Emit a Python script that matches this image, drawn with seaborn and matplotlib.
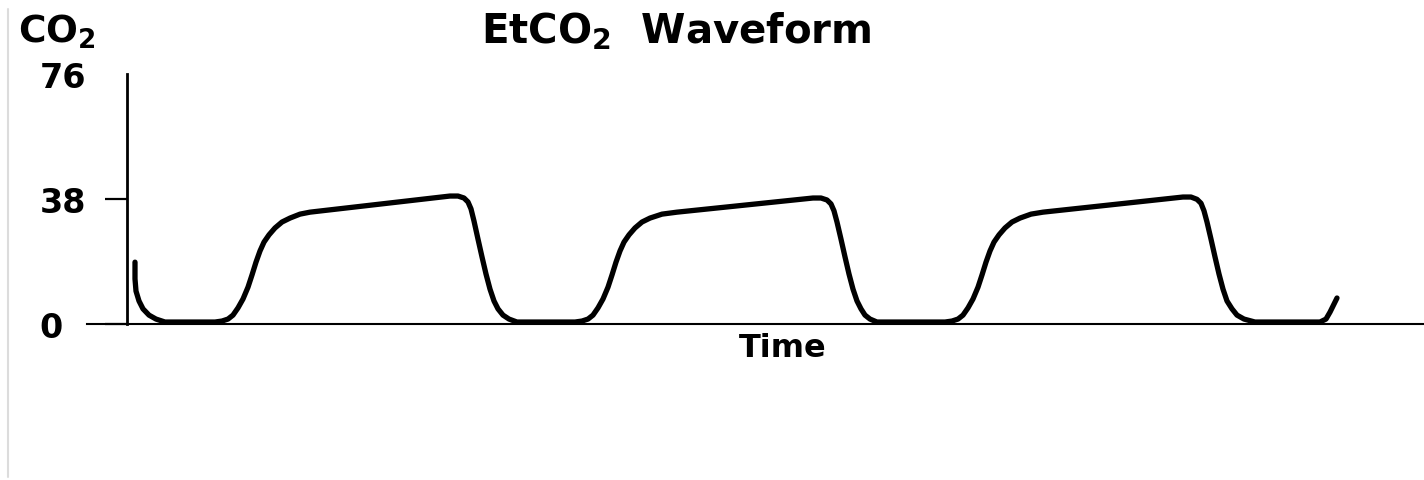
import numpy as np
import pandas as pd
import matplotlib
matplotlib.use("Agg")
import matplotlib.pyplot as plt
from matplotlib.lines import Line2D
import seaborn as sns


# Waveform: time (s, arbitrary) and CO2 (mmHg).
time_s = [
    # tail of previous breath
    0.08, 0.08, 0.09, 0.12, 0.16, 0.22, 0.29, 0.38,
    # breath 1
    0.88, 0.95, 1.01, 1.06, 1.11, 1.16, 1.21, 1.25, 1.29, 1.33, 1.37, 1.42,
    1.48, 1.55, 1.63, 1.73, 1.83,
    3.23, 3.31, 3.37, 3.41, 3.44, 3.47, 3.51, 3.55, 3.59, 3.63, 3.67, 3.71,
    3.76, 3.82, 3.90,
    # breath 2
    4.48, 4.55, 4.61, 4.66, 4.71, 4.76, 4.81, 4.85, 4.89, 4.93, 4.97, 5.02,
    5.08, 5.15, 5.23, 5.35, 5.50,
    6.86, 6.94, 7.00, 7.04, 7.07, 7.10, 7.14, 7.18, 7.22, 7.26, 7.30, 7.34,
    7.38, 7.43, 7.50,
    # breath 3
    8.18, 8.25, 8.31, 8.36, 8.41, 8.46, 8.51, 8.55, 8.59, 8.63, 8.67, 8.72,
    8.78, 8.85, 8.93, 9.04, 9.16,
    10.56, 10.64, 10.70, 10.74, 10.77, 10.80, 10.84, 10.88, 10.92, 10.96,
    11.00, 11.05, 11.10, 11.17, 11.28,
    # start of next breath
    11.93, 11.99, 12.03, 12.10,
]
co2_mmhg = [
    18.8, 13.7, 10.0, 7.0, 4.6, 2.7, 1.5, 0.6,
    0.6, 0.9, 1.5, 2.7, 4.9, 7.6, 11.2, 14.9, 18.8, 22.2, 24.9, 27.1,
    29.2, 31.0, 32.2, 33.4, 34.0,
    38.9, 38.9, 38.3, 37.1, 35.0, 31.3, 25.8, 20.4, 15.2, 10.6, 7.0, 4.6,
    2.7, 1.5, 0.6,
    0.6, 0.9, 1.5, 2.7, 4.9, 7.6, 11.2, 14.9, 18.8, 22.2, 24.9, 27.1,
    29.2, 31.0, 32.2, 33.4, 34.0,
    38.3, 38.3, 37.7, 36.5, 34.4, 31.0, 25.8, 20.4, 15.2, 10.6, 7.0, 4.6,
    2.7, 1.5, 0.6,
    0.6, 0.9, 1.5, 2.7, 4.9, 7.6, 11.2, 14.9, 18.8, 22.2, 24.9, 27.1,
    29.2, 31.0, 32.2, 33.4, 34.0,
    38.6, 38.6, 37.9, 36.7, 34.4, 31.0, 25.8, 20.4, 15.2, 10.6,
    7.0, 4.6, 2.7, 1.5, 0.6,
    0.6, 1.5, 3.6, 7.9,
]
y_ticks = [0, 38, 76]
y_tick_labels = ["0", "38", "76"]

df = pd.DataFrame({"Time": time_s, "CO2": co2_mmhg})


sns.set_style("white")
plt.rcParams["font.family"] = ["DejaVu Sans"]
plt.rcParams["mathtext.default"] = "bf"
plt.rcParams["text.color"] = "black"
plt.rcParams["ytick.color"] = "black"
plt.rcParams["ytick.labelcolor"] = "black"

fig = plt.figure(figsize=(14.24, 4.81), dpi=100)
ax = fig.add_axes([87 / 1424, 1 - 325 / 481, 1337 / 1424, 250 / 481])

sns.lineplot(data=df, x="Time", y="CO2", sort=False, estimator=None,
             color="black", linewidth=3.8, ax=ax,
             solid_joinstyle="round", solid_capstyle="round")

ax.set_xlim(-0.40, 12.97)
ax.set_ylim(0, 76)

# Axes: y axis sits at time 0, x axis runs a bit further left.
for s in ["top", "right"]:
    ax.spines[s].set_visible(False)
ax.spines["left"].set_position(("data", 0))
ax.spines["left"].set_linewidth(2.0)
ax.spines["left"].set_color("black")
ax.spines["bottom"].set_linewidth(1.5)
ax.spines["bottom"].set_color("black")

ax.set_xticks([])
ax.set_yticks(y_ticks)
ax.set_yticklabels(y_tick_labels, fontsize=24, fontweight="bold", ha="left",
                   color="black")
ax.tick_params(axis="y", length=16, width=1.6, color="black", pad=47, left=True)
ax.yaxis.get_major_ticks()[2].tick1line.set_visible(False)
ax.set_xlabel("")
ax.set_ylabel("")

# Texts.
fig.text(676 / 1424, 1 - 43 / 481, "EtCO$_2$  Waveform", ha="center",
         va="baseline", fontsize=29, fontweight="bold", color="black")
fig.text(18 / 1424, 1 - 43 / 481, "CO$_2$", ha="left", va="baseline",
         fontsize=27, fontweight="bold", color="black")
fig.text(783 / 1424, 1 - 357 / 481, "Time", ha="center", va="baseline",
         fontsize=23, fontweight="bold", color="black")

# Faint scan border on the left.
fig.add_artist(Line2D([8 / 1424, 8 / 1424], [1 - 478 / 481, 1 - 10 / 481],
                      transform=fig.transFigure, color="#dcdcdc", linewidth=1.5))

plt.savefig("out.png", dpi=100)
